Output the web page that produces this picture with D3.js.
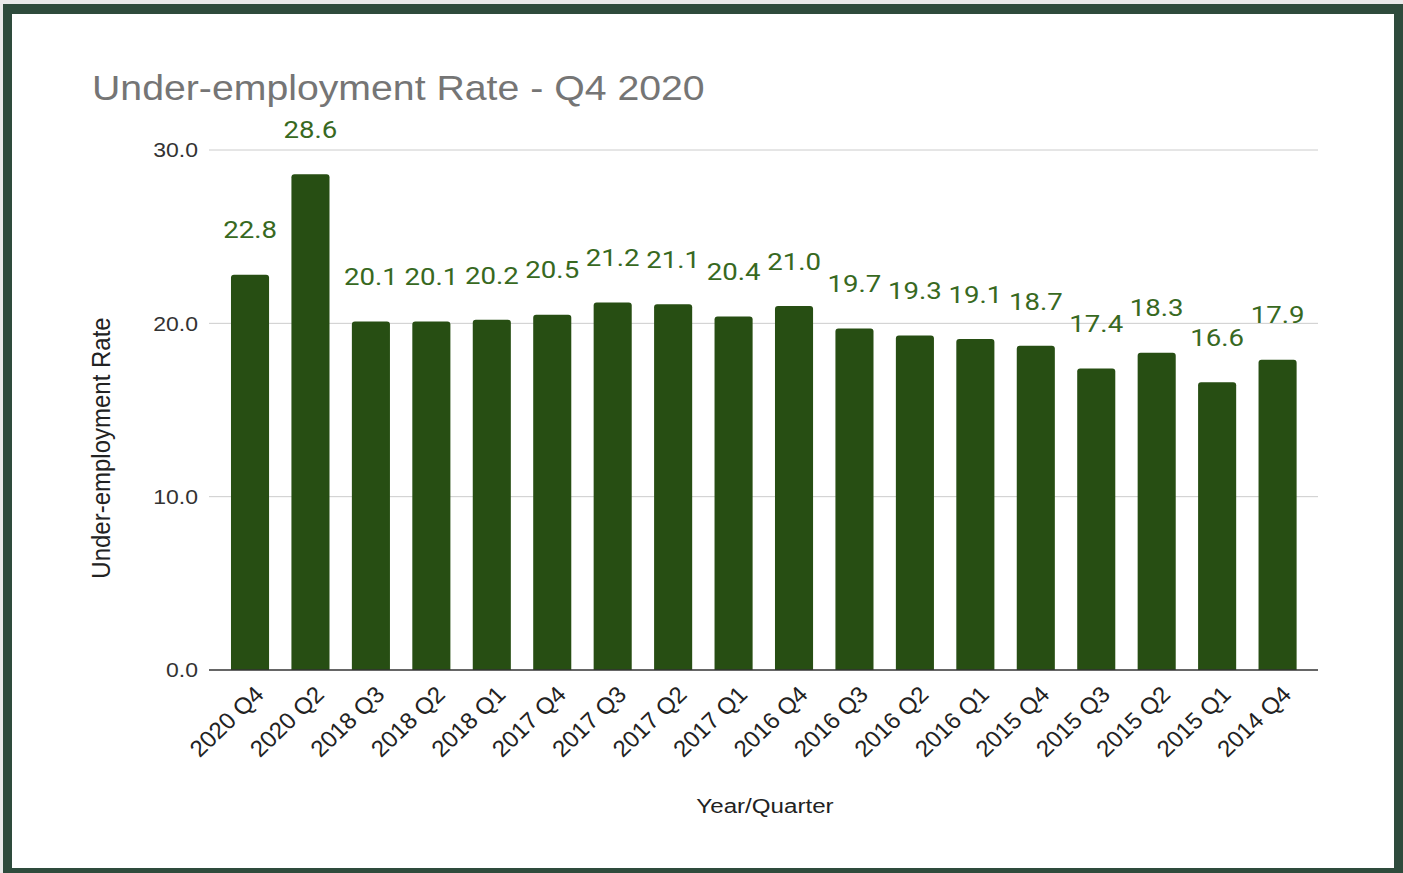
<!DOCTYPE html>
<html><head><meta charset="utf-8">
<script src="https://cdn.jsdelivr.net/npm/d3@7"></script>
<style>
html,body{margin:0;padding:0;background:#e9e9e9;}
svg{display:block;}
</style></head>
<body>
<script>
const categories = ["2020 Q4","2020 Q2","2018 Q3","2018 Q2","2018 Q1","2017 Q4","2017 Q3","2017 Q2","2017 Q1","2016 Q4","2016 Q3","2016 Q2","2016 Q1","2015 Q4","2015 Q3","2015 Q2","2015 Q1","2014 Q4"];
const values = [22.8,28.6,20.1,20.1,20.2,20.5,21.2,21.1,20.4,21.0,19.7,19.3,19.1,18.7,17.4,18.3,16.6,17.9];
const yTicks = [0,10,20,30];
const title = "Under-employment Rate - Q4 2020";
const xTitle = "Year/Quarter";
const yTitle = "Under-employment Rate";

const W = 1403, H = 873;
const SX = 1.15; // horizontal stretch of the reference text
const svg = d3.select("body").append("svg").attr("width", W).attr("height", H);

// frame
svg.append("rect").attr("x",3).attr("y",4).attr("width",W-3).attr("height",H-4).attr("fill","#2e4b3c");
svg.append("rect").attr("x",12).attr("y",14).attr("width",1394-12).attr("height",868-14).attr("fill","#ffffff");

const plot = {left:209, right:1318, top:150, bottom:670};
const x = d3.scaleBand().domain(categories).range([219.8,1307.8]).paddingInner(0.37).paddingOuter(0.185);
const y = d3.scaleLinear().domain([0,30]).range([plot.bottom, plot.top]);

// grid
svg.append("g").selectAll("line").data(yTicks.filter(d=>d>0)).join("line")
  .attr("x1",plot.left).attr("x2",plot.right)
  .attr("y1",d=>y(d)).attr("y2",d=>y(d))
  .attr("stroke","#cccccc").attr("stroke-width",1);

// y tick labels
svg.append("g").selectAll("text").data(yTicks).join("text")
  .attr("transform",d=>`translate(198,${y(d)}) scale(${SX},1)`)
  .attr("dy","0.36em")
  .attr("text-anchor","end")
  .attr("font-family","Liberation Sans, Arial, sans-serif").attr("font-size",20)
  .attr("fill","#333").text(d=>d3.format(".1f")(d));

// bars with rounded top
const r = 3;
svg.append("g").selectAll("path").data(values).join("path")
  .attr("d",(d,i)=>{
    const x0 = x(categories[i]), bw = x.bandwidth(), y0 = y(d), yb = y(0);
    return `M${x0},${yb}V${y0+r}Q${x0},${y0} ${x0+r},${y0}H${x0+bw-r}Q${x0+bw},${y0} ${x0+bw},${y0+r}V${yb}Z`;
  })
  .attr("fill","#274e13");

// baseline
svg.append("line").attr("x1",plot.left).attr("x2",plot.right)
  .attr("y1",y(0)).attr("y2",y(0)).attr("stroke","#333").attr("stroke-width",1.5);

// value labels
svg.append("g").selectAll("text").data(values).join("text")
  .attr("transform",(d,i)=>`translate(${x(categories[i])+x.bandwidth()/2},${y(d)-45}) scale(${SX},1)`)
  .attr("dy","0.36em")
  .attr("text-anchor","middle")
  .attr("font-family","Roboto, sans-serif").attr("font-size",24)
  .attr("fill","#38691f").text(d=>d3.format(".1f")(d));

// x tick labels
svg.append("g").selectAll("text").data(categories).join("text")
  .attr("transform",d=>`translate(${x(d)+x.bandwidth()/2+9},${690}) scale(1.05,1) rotate(-45)`)
  .attr("text-anchor","end").attr("dy","0.36em")
  .attr("font-family","Liberation Sans, Arial, sans-serif").attr("font-size",23)
  .attr("fill","#222").text(d=>d);

// titles
svg.append("text").attr("transform",`translate(92,100) scale(1.09,1)`)
  .attr("font-family","Liberation Sans, Arial, sans-serif").attr("font-size",36)
  .attr("fill","#757575").text(title);
svg.append("text").attr("transform",`translate(765,813) scale(${SX},1)`).attr("text-anchor","middle")
  .attr("font-family","Liberation Sans, Arial, sans-serif").attr("font-size",21)
  .attr("fill","#222").text(xTitle);
svg.append("text").attr("transform","translate(110,448) scale(1.1,1) rotate(-90)").attr("text-anchor","middle")
  .attr("font-family","Liberation Sans, Arial, sans-serif").attr("font-size",24)
  .attr("fill","#222").text(yTitle);
</script>
</body></html>
